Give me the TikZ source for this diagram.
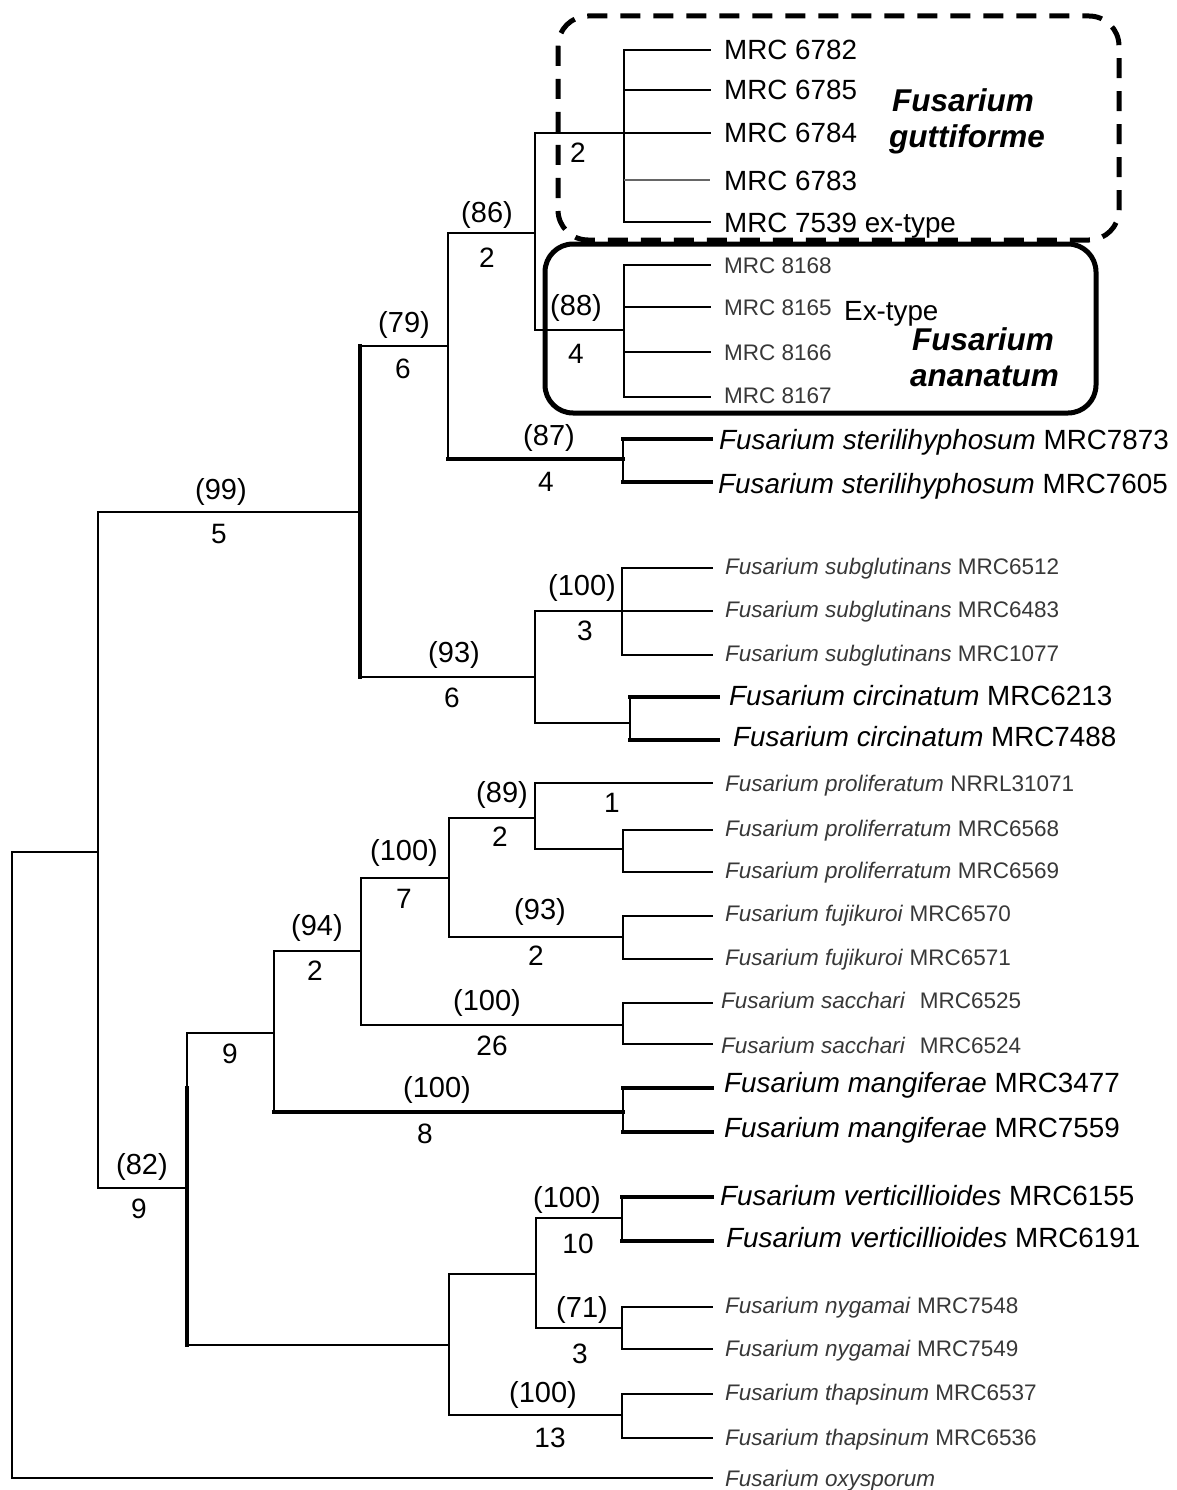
\documentclass[tikz,border=0pt]{standalone}
\usepackage{fontspec}
\setmainfont{Liberation Sans}
\begin{document}
\begin{tikzpicture}[x=1pt,y=-1pt,
  br/.style={line width=2.7pt, line cap=rect},
  thk/.style={line width=4pt, line cap=rect},
  mid/.style={line width=3.3pt, line cap=rect},
  big/.style={font=\fontsize{27.8}{30}\selectfont, inner sep=0pt, anchor=base west, yshift=-10pt},
  sml/.style={font=\fontsize{22.5}{24}\selectfont, text=black!78, inner sep=0pt, anchor=base west, yshift=-8pt},
  bs/.style={font=\fontsize{29}{31}\selectfont, inner sep=0pt, anchor=base, yshift=-7.5pt},
  nm/.style={font=\fontsize{28}{30}\selectfont, inner sep=0pt, anchor=base, yshift=-10pt},
  sp/.style={font=\fontsize{31.5}{34}\selectfont\bfseries\itshape, inner sep=0pt, anchor=base west}
]
\useasboundingbox (0,0) rectangle (1177,1490);
% internal nodes
\coordinate (R) at (12,1165);
\coordinate (A) at (98,852);
\coordinate (B) at (360,512);
\coordinate (K) at (187,1188);
\coordinate (C) at (448,346);
\coordinate (H) at (535,677);
\coordinate (D) at (535,233);
\coordinate (G) at (623,459);
\coordinate (E) at (624,133);
\coordinate (F) at (624,330);
\coordinate (I) at (622,611);
\coordinate (J) at (630,723);
\coordinate (L) at (274,1033);
\coordinate (U) at (449,1345);
\coordinate (M) at (361,951);
\coordinate (T) at (623,1112);
\coordinate (N) at (449,878);
\coordinate (S) at (623,1025);
\coordinate (O) at (535,818);
\coordinate (Q) at (623,937);
\coordinate (P) at (623,849);
\coordinate (V) at (536,1274);
\coordinate (Y) at (622,1415);
\coordinate (W) at (622,1218);
\coordinate (X) at (622,1328);
% tips
\coordinate (e1) at (710,50);
\coordinate (e2) at (710,90);
\coordinate (e3) at (710,133);
\coordinate (e4) at (710,180);
\coordinate (e5) at (710,222);
\coordinate (e6) at (710,265);
\coordinate (e7) at (710,307);
\coordinate (e8) at (710,352);
\coordinate (e9) at (710,397);
\coordinate (e10) at (711,439);
\coordinate (e11) at (711,482);
\coordinate (e12) at (712,568);
\coordinate (e13) at (712,611);
\coordinate (e14) at (712,655);
\coordinate (e15) at (718,697);
\coordinate (e16) at (718,740);
\coordinate (e17) at (712,783);
\coordinate (e18) at (712,830);
\coordinate (e19) at (712,872);
\coordinate (e20) at (712,916);
\coordinate (e21) at (712,959);
\coordinate (e22) at (712,1003);
\coordinate (e23) at (712,1044);
\coordinate (e24) at (712,1088);
\coordinate (e25) at (712,1132);
\coordinate (e26) at (712,1197);
\coordinate (e27) at (712,1241);
\coordinate (e28) at (712,1307);
\coordinate (e29) at (712,1349);
\coordinate (e30) at (712,1394);
\coordinate (e31) at (712,1438);
\coordinate (e32) at (712,1478);

% verticals
\draw[br] (R |- A) -- (R |- e32);
\draw[br] (A |- B) -- (A |- K);
\draw[thk] (B |- C) -- (B |- H);
\draw[br] (C |- D) -- (C |- G);
\draw[br] (D |- E) -- (D |- F);
\draw[br] (E |- e1) -- (E |- e5);
\draw[br] (F |- e6) -- (F |- e9);
\draw[br] (G |- e10) -- (G |- e11);
\draw[br] (H |- I) -- (H |- J);
\draw[br] (I |- e12) -- (I |- e14);
\draw[br] (J |- e15) -- (J |- e16);
\draw[br] (K |- L) -- (K |- U);
\draw[thk] (K |- e24) -- (K |- U);
\draw[br] (L |- M) -- (L |- T);
\draw[br] (M |- N) -- (M |- S);
\draw[br] (N |- O) -- (N |- Q);
\draw[br] (O |- e17) -- (O |- P);
\draw[br] (P |- e18) -- (P |- e19);
\draw[br] (Q |- e20) -- (Q |- e21);
\draw[br] (S |- e22) -- (S |- e23);
\draw[br] (T |- e24) -- (T |- e25);
\draw[br] (U |- V) -- (U |- Y);
\draw[br] (V |- W) -- (V |- X);
\draw[br] (W |- e26) -- (W |- e27);
\draw[br] (X |- e28) -- (X |- e29);
\draw[br] (Y |- e30) -- (Y |- e31);

% horizontals
\draw[br] (R |- A) -- (A);
\draw[br] (R |- e32) -- (e32);
\draw[br] (A |- B) -- (B);
\draw[br] (A |- K) -- (K);
\draw[br] (B |- C) -- (C);
\draw[br] (B |- H) -- (H);
\draw[br] (C |- D) -- (D);
\draw[mid] (C |- G) -- (G);
\draw[br] (D |- E) -- (E);
\draw[br] (D |- F) -- (F);
\foreach \t in {1,2,3,5} \draw[br] (E |- e\t) -- (e\t);
\draw[line width=2.2pt, black!60] (E |- e4) -- (e4);
\foreach \t in {6,7,8,9} \draw[br] (F |- e\t) -- (e\t);
\foreach \t in {10,11} \draw[thk] (G |- e\t) -- (e\t);
\draw[br] (H |- I) -- (I);
\draw[br] (H |- J) -- (J);
\foreach \t in {12,13,14} \draw[br] (I |- e\t) -- (e\t);
\foreach \t in {15,16} \draw[thk] (J |- e\t) -- (e\t);
\draw[br] (K |- L) -- (L);
\draw[br] (K |- U) -- (U);
\draw[br] (L |- M) -- (M);
\draw[mid] (L |- T) -- (T);
\draw[br] (M |- N) -- (N);
\draw[br] (M |- S) -- (S);
\draw[br] (N |- O) -- (O);
\draw[br] (N |- Q) -- (Q);
\draw[br] (O |- e17) -- (e17);
\draw[br] (O |- P) -- (P);
\foreach \t in {18,19} \draw[br] (P |- e\t) -- (e\t);
\foreach \t in {20,21} \draw[br] (Q |- e\t) -- (e\t);
\foreach \t in {22,23} \draw[br] (S |- e\t) -- (e\t);
\foreach \t in {24,25} \draw[thk] (T |- e\t) -- (e\t);
\draw[br] (U |- V) -- (V);
\draw[br] (U |- Y) -- (Y);
\draw[br] (V |- W) -- (W);
\draw[br] (V |- X) -- (X);
\foreach \t in {26,27} \draw[thk] (W |- e\t) -- (e\t);
\foreach \t in {28,29} \draw[br] (X |- e\t) -- (e\t);
\foreach \t in {30,31} \draw[br] (Y |- e\t) -- (e\t);

% clade boxes
\draw[line width=5pt, dash pattern=on 20pt off 13pt, rounded corners=30pt] (558,16) rectangle (1119,240);
\draw[line width=5pt, rounded corners=28pt] (545,244) rectangle (1096,413);
\node[sp] (g1) at (892,112) {Fusarium};
\node[sp] (g2) at (889,148) {guttiforme};
\node[sp] (a1) at (912,350) {Fusarium};
\node[sp] (a2) at (910,386) {ananatum};

% tip labels
\node[big] (t1) at (724,50) {MRC 6782};
\node[big] (t2) at (724,90) {MRC 6785};
\node[big] (t3) at (724,133) {MRC 6784};
\node[big] (t4) at (724,180) {MRC 6783};
\node[big] (t5) at (724,222) {MRC 7539 ex-type};
\node[sml] (t6) at (724,265) {MRC 8168};
\node[sml] (t7) at (724,307) {MRC 8165};
\node[big] (t7b) at (844,310) {Ex-type};
\node[sml] (t8) at (724,352) {MRC 8166};
\node[sml] (t9) at (724,395) {MRC 8167};
\node[big] (t10) at (719,439) {\textit{Fusarium sterilihyphosum} MRC7873};
\node[big] (t11) at (718,483) {\textit{Fusarium sterilihyphosum} MRC7605};
\node[sml] (t12) at (725,566) {\textit{Fusarium subglutinans} MRC6512};
\node[sml] (t13) at (725,609) {\textit{Fusarium subglutinans} MRC6483};
\node[sml] (t14) at (725,653) {\textit{Fusarium subglutinans} MRC1077};
\node[big] (t15) at (729,695) {\textit{Fusarium circinatum} MRC6213};
\node[big] (t16) at (733,736) {\textit{Fusarium circinatum} MRC7488};
\node[sml] (t17) at (725,783) {\textit{Fusarium proliferatum} NRRL31071};
\node[sml] (t18) at (725,828) {\textit{Fusarium proliferratum} MRC6568};
\node[sml] (t19) at (725,870) {\textit{Fusarium proliferratum} MRC6569};
\node[sml] (t20) at (725,913) {\textit{Fusarium fujikuroi} MRC6570};
\node[sml] (t21) at (725,957) {\textit{Fusarium fujikuroi} MRC6571};
\node[sml] (t22) at (721,1000) {\textit{Fusarium sacchari}\hspace{8pt} MRC6525};
\node[sml] (t23) at (721,1045) {\textit{Fusarium sacchari}\hspace{8pt} MRC6524};
\node[big] (t24) at (724,1082) {\textit{Fusarium mangiferae} MRC3477};
\node[big] (t25) at (724,1127) {\textit{Fusarium mangiferae} MRC7559};
\node[big] (t26) at (720,1195) {\textit{Fusarium verticillioides} MRC6155};
\node[big] (t27) at (726,1237) {\textit{Fusarium verticillioides} MRC6191};
\node[sml] (t28) at (725,1305) {\textit{Fusarium nygamai} MRC7548};
\node[sml] (t29) at (725,1348) {\textit{Fusarium nygamai} MRC7549};
\node[sml] (t30) at (725,1392) {\textit{Fusarium thapsinum} MRC6537};
\node[sml] (t31) at (725,1437) {\textit{Fusarium thapsinum} MRC6536};
\node[sml] (t32) at (725,1478) {\textit{Fusarium oxysporum}};

% support / branch labels
\node[nm] (l86b) at (578,153) {2};
\node[bs] (l86) at (487,215) {(86)};
\node[nm] (l86n) at (487,257) {2};
\node[bs] (l88) at (576,308) {(88)};
\node[nm] (l88n) at (576,353) {4};
\node[bs] (l79) at (404,325) {(79)};
\node[nm] (l79n) at (403,368) {6};
\node[bs] (l87) at (549,438) {(87)};
\node[nm] (l87n) at (546,481) {4};
\node[bs] (l99) at (221,492) {(99)};
\node[nm] (l99n) at (219,533) {5};
\node[bs] (l93) at (454,655) {(93)};
\node[nm] (l93n) at (452,697) {6};
\node[bs] (l100a) at (582,588) {(100)};
\node[nm] (l100an) at (585,630) {3};
\node[bs] (l89) at (502,795) {(89)};
\node[nm] (l89n) at (500,836) {2};
\node[nm] (l1) at (612,802) {1};
\node[bs] (l100b) at (404,853) {(100)};
\node[nm] (l100bn) at (404,898) {7};
\node[bs] (l93b) at (540,912) {(93)};
\node[nm] (l93bn) at (536,955) {2};
\node[bs] (l94) at (317,928) {(94)};
\node[nm] (l94n) at (315,970) {2};
\node[bs] (l100c) at (487,1003) {(100)};
\node[nm] (l100cn) at (492,1045) {26};
\node[nm] (l9a) at (230,1053) {9};
\node[bs] (l100d) at (437,1090) {(100)};
\node[nm] (l100dn) at (425,1133) {8};
\node[bs] (l82) at (142,1167) {(82)};
\node[nm] (l82n) at (139,1208) {9};
\node[bs] (l100e) at (567,1200) {(100)};
\node[nm] (l100en) at (578,1243) {10};
\node[bs] (l71) at (582,1310) {(71)};
\node[nm] (l71n) at (580,1353) {3};
\node[bs] (l100f) at (543,1395) {(100)};
\node[nm] (l100fn) at (550,1437) {13};
\end{tikzpicture}
\end{document}
